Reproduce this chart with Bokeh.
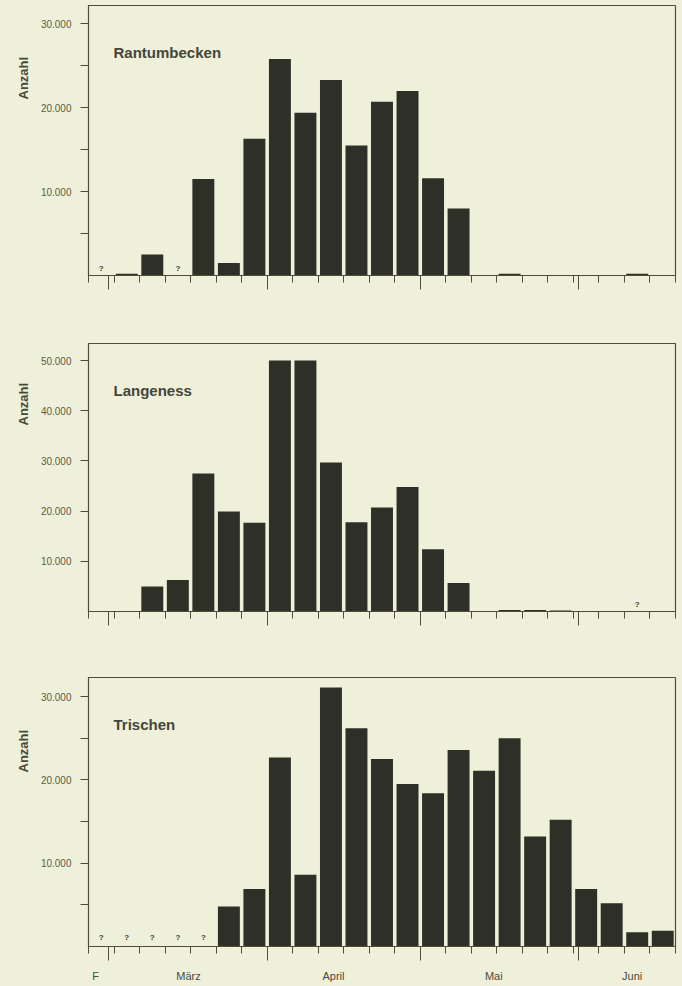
from bokeh.plotting import figure
from bokeh.models import FixedTicker, Label, Range1d, LinearAxis, Title
from bokeh.layouts import column
from bokeh.embed import file_html
from bokeh.resources import INLINE
from bokeh.core.properties import value

# day 0 = 25 Feb; 23 pentads
pentad_start = list(range(0, 115, 5))
pentad_edges = list(range(0, 120, 5))

rantum = [0, 200, 2500, 0, 11500, 1500, 16300, 25800, 19400, 23300, 15500, 20700,
          22000, 11600, 8000, 0, 200, 0, 0, 0, 0, 200, 0]
rantum_q = [0, 3]
langeness = [0, 0, 5000, 6300, 27500, 19900, 17700, 50000, 50000, 29700, 17800, 20700,
             24800, 12400, 5700, 0, 300, 300, 200, 0, 0, 0, 0]
langeness_q = [21]
trischen = [0, 0, 0, 0, 0, 4800, 6900, 22700, 8600, 31100, 26200, 22500, 19500, 18400,
            23600, 21100, 25000, 13200, 15200, 6900, 5200, 1700, 1900]
trischen_q = [0, 1, 2, 3, 4]

month_bounds = [4, 35, 65, 96]
month_names = ["F", "März", "April", "Mai", "Juni"]
month_label_pos = [1.4, 19.6, 48, 79.4, 106.5]

BG = "#eef0da"
BAR = "#2e2f26"
FRAME = "#4f4f38"
TXT = "#3a3a2e"
FONT = "Liberation Sans"


def fmt(v):
    return f"{v:,}".replace(",", ".")


def panel(name, vals, qbins, y_end, yticks, yminor, T, fh, B, name_y, anz_off, q_y, months=False):
    p = figure(width=682, height=T + fh + B, min_border_top=T, min_border_bottom=B,
               min_border_left=88, min_border_right=7,
               x_range=Range1d(0, 115), y_range=Range1d(0, y_end),
               background_fill_color=BG, border_fill_color=BG,
               outline_line_color=FRAME, outline_line_width=1.2,
               toolbar_location=None, output_backend="svg",
               styles={"background-color": BG})
    p.grid.visible = False
    centers = [s + 2.5 for s in pentad_start]
    p.vbar(x=centers, top=vals, bottom=0, width=4.3, fill_color=BAR, line_color=None)
    qx = [pentad_start[i] + 2.5 for i in qbins]
    p.text(x=qx, y=[q_y] * len(qx), text=["?"] * len(qx), text_align="center",
           text_baseline="bottom", text_font=value(FONT), text_font_size="8px",
           text_color=TXT, text_font_style="bold")

    xa = p.xaxis[0]
    xa.ticker = FixedTicker(ticks=month_bounds, minor_ticks=pentad_edges)
    xa.major_label_overrides = {t: "" for t in month_bounds}
    xa.major_tick_out = 14
    xa.major_tick_in = 0
    xa.minor_tick_out = 7
    xa.minor_tick_in = 0
    xa.major_label_text_font_size = "1px"
    xa.major_label_standoff = 0
    xa.axis_line_color = FRAME
    xa.major_tick_line_color = FRAME
    xa.minor_tick_line_color = FRAME
    xa.axis_line_width = 1.2

    ya = p.yaxis[0]
    ya.ticker = FixedTicker(ticks=yticks, minor_ticks=yminor)
    ya.major_label_overrides = {t: fmt(t) for t in yticks}
    ya.major_tick_out = 8
    ya.major_tick_in = 0
    ya.minor_tick_out = 8
    ya.minor_tick_in = 0
    ya.axis_line_color = FRAME
    ya.major_tick_line_color = FRAME
    ya.minor_tick_line_color = FRAME
    ya.major_label_text_font = FONT
    ya.major_label_text_font_size = "10px"
    ya.major_label_text_color = "#5c5c4a"
    ya.major_label_standoff = 9

    p.add_layout(Label(x=4.9, y=name_y, text=name, text_font=FONT, text_font_size="15px",
                       text_font_style="bold", text_color="#45453a", text_baseline="middle"))
    p.add_layout(Title(text="Anzahl", align="left", offset=anz_off, text_font=FONT,
                       text_font_size="13px", text_font_style="bold",
                       text_color="#4a4a3a", standoff=14), "left")
    if months:
        ma = LinearAxis(ticker=FixedTicker(ticks=month_label_pos, minor_ticks=[]),
                        major_label_overrides={x: n for x, n in zip(month_label_pos, month_names)},
                        major_tick_out=0, major_tick_in=0, axis_line_color=None,
                        major_label_text_font=FONT, major_label_text_font_size="11px",
                        major_label_text_color="#4a4a3a", major_label_standoff=9)
        p.add_layout(ma, "below")
    return p


p1 = panel("Rantumbecken", rantum, rantum_q, 32180, [10000, 20000, 30000],
           [5000, 15000, 25000], 5, 270, 50, 26600, 176, 250)
p2 = panel("Langeness", langeness, langeness_q, 53390, [10000, 20000, 30000, 40000, 50000],
           [], 18, 268, 50, 44000, 186, 400)
p3 = panel("Trischen", trischen, trischen_q, 32290, [10000, 20000, 30000],
           [5000, 15000, 25000], 16, 269, 40, 26650, 174, 500, months=True)

layout = column(p1, p2, p3, spacing=0, styles={"background-color": BG})
open("out.html", "w").write(file_html(layout, INLINE))
